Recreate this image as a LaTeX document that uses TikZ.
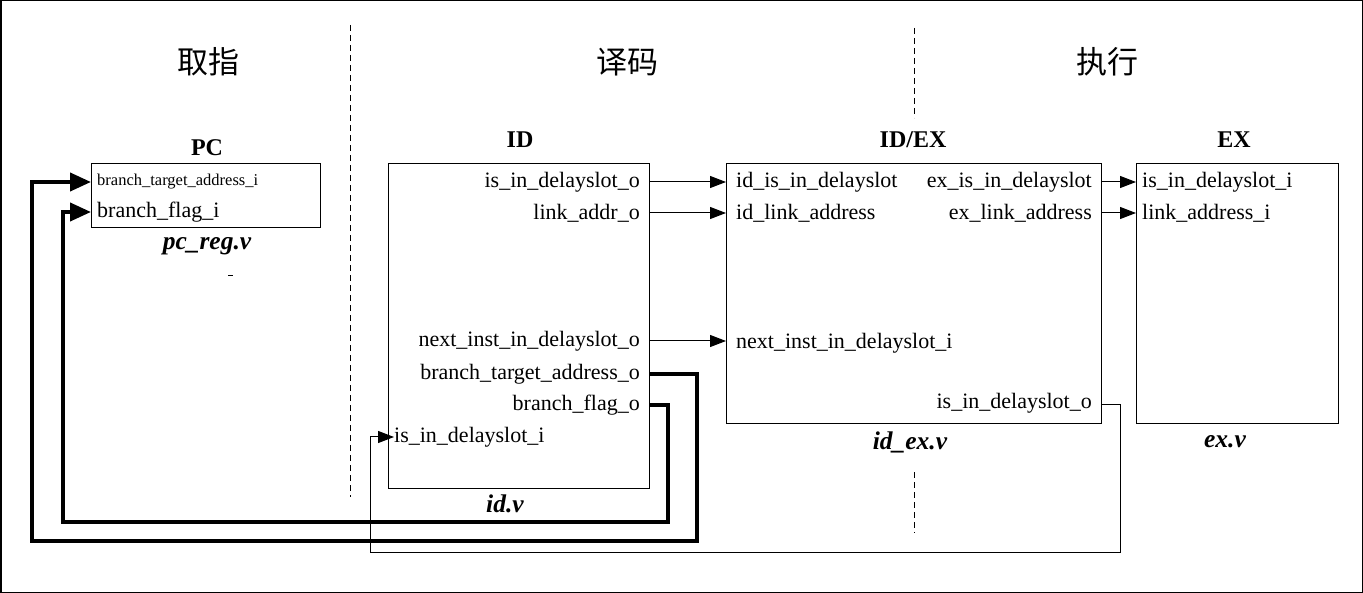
\documentclass[tikz,border=0pt]{standalone}
\usepackage{fontspec}
\setmainfont{Liberation Serif}
\newfontfamily\cjk{Noto Sans CJK SC}
\usetikzlibrary{arrows.meta}
\begin{document}
\begin{tikzpicture}[x=1pt,y=-1pt,
  box/.style={draw, line width=1.1pt, inner sep=0pt, anchor=north west},
  port/.style={font=\fontsize{22}{22}\selectfont, inner sep=0pt},
  smallport/.style={font=\fontsize{16.5}{17}\selectfont, inner sep=0pt},
  title/.style={font=\fontsize{24}{24}\selectfont\bfseries, inner sep=0pt},
  fname/.style={font=\fontsize{25.5}{26}\selectfont\bfseries\itshape, inner sep=0pt},
  stage/.style={font=\fontsize{31}{31}\selectfont\cjk, inner sep=0pt},
  sep/.style={line width=0.8pt, dash pattern=on 6pt off 4pt},
  conn/.style={line width=1pt, -{Triangle[length=16pt,width=12pt]}},
  bigconn/.style={line width=4pt, -{Triangle[length=21pt,width=18pt]}},
]
\useasboundingbox (0,0) rectangle (1363,593);
\draw[line width=1.5pt] (0.75,0.75) rectangle (1362.25,592.25);

% stage separators
\coordinate (s1a) at (350,25); \coordinate (s1b) at (350,497);
\coordinate (s2a) at (914,28); \coordinate (s2b) at (914,118);
\coordinate (s2c) at (914,472); \coordinate (s2d) at (914,533);
\draw[sep] (s1a) -- (s1b);
\draw[sep] (s2a) -- (s2b);
\draw[sep] (s2c) -- (s2d);

% stage titles
\node[stage] (st1) at (208,62) {取指};
\node[stage] (st2) at (627,62) {译码};
\node[stage] (st3) at (1107,62) {执行};

% boxes
\node[box, minimum width=229pt, minimum height=64pt] (pc) at (91,163) {};
\node[box, minimum width=261pt, minimum height=325pt] (id) at (388,163) {};
\node[box, minimum width=375pt, minimum height=260pt] (idex) at (726,163) {};
\node[box, minimum width=202pt, minimum height=260pt] (ex) at (1136,163) {};

% titles
\node[title] (tpc) at (207,148) {PC};
\node[title] (tid) at (520,140) {ID};
\node[title] (tidex) at (913,140) {ID/EX};
\node[title] (tex) at (1234,140) {EX};

% file names
\node[fname] (fpc) at (207,246) {pc\_reg.v};
\node[fname] (fid) at (505,504) {id.v};
\node[fname] (fidex) at (910,442) {id\_ex.v};
\node[fname] (fex) at (1225,442) {ex.v};
\draw[line width=0.8pt] (228,275) -- (233,275);

% PC ports
\node[smallport, anchor=west] (pcbta) at (97,182) {branch\_target\_address\_i};
\node[port, anchor=west] (pcbf) at (97,212) {branch\_flag\_i};

% ID ports
\node[port, anchor=east] (idiso) at (640,182) {is\_in\_delayslot\_o};
\node[port, anchor=east] (idlink) at (640,213) {link\_addr\_o};
\node[port, anchor=east] (idnext) at (640,341) {next\_inst\_in\_delayslot\_o};
\node[port, anchor=east] (idbta) at (640,374) {branch\_target\_address\_o};
\node[port, anchor=east] (idbf) at (640,405) {branch\_flag\_o};
\node[port, anchor=west] (idisi) at (394,437) {is\_in\_delayslot\_i};

% ID/EX ports
\node[port, anchor=west] (xiisd) at (736,182) {id\_is\_in\_delayslot};
\node[port, anchor=west] (xilink) at (736,213) {id\_link\_address};
\node[port, anchor=west] (xinext) at (736,343) {next\_inst\_in\_delayslot\_i};
\node[port, anchor=east] (xeisd) at (1092,182) {ex\_is\_in\_delayslot};
\node[port, anchor=east] (xelink) at (1092,213) {ex\_link\_address};
\node[port, anchor=east] (xiso) at (1092,403) {is\_in\_delayslot\_o};

% EX ports
\node[port, anchor=west] (exisd) at (1142,182) {is\_in\_delayslot\_i};
\node[port, anchor=west] (exlink) at (1142,213) {link\_address\_i};

% ID -> ID/EX
\draw[conn] (id.east |- idiso) -- (idex.west |- idiso);
\draw[conn] (id.east |- idlink) -- (idex.west |- idlink);
\draw[conn] (id.east |- idnext) -- (idex.west |- idnext);
% ID/EX -> EX
\draw[conn] (idex.east |- xeisd) -- (ex.west |- xeisd);
\draw[conn] (idex.east |- xelink) -- (ex.west |- xelink);

% feedback is_in_delayslot
\coordinate (f1) at (1120,405);
\coordinate (f2) at (370,552);
\draw[conn] (idex.east |- f1) -- (f1) |- (f2) |- (idisi.west);

% branch feedback to PC
\coordinate (b1) at (697,374);
\coordinate (b2) at (32,541);
\draw[bigconn] (id.east |- idbta) -- (b1) |- (b2) |- (pc.west |- pcbta);
\coordinate (c1) at (668,405);
\coordinate (c2) at (63,522);
\draw[bigconn] (id.east |- idbf) -- (c1) |- (c2) |- (pc.west |- pcbf);
\end{tikzpicture}
\end{document}
